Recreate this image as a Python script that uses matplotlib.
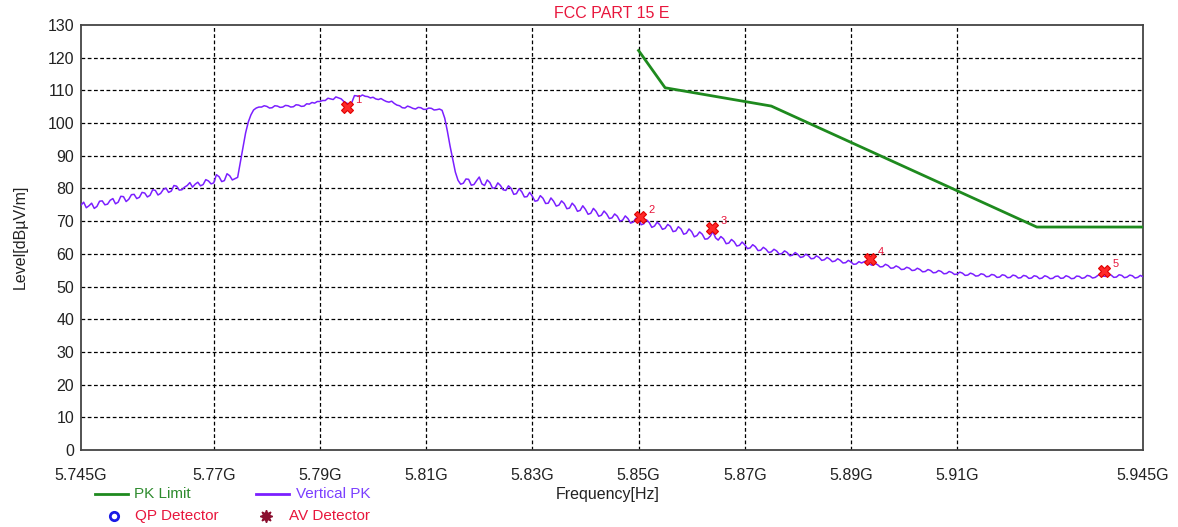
import numpy as np
import matplotlib
matplotlib.use("Agg")
import matplotlib.pyplot as plt
from matplotlib.lines import Line2D

plt.rcParams['font.family'] = ['Liberation Sans', 'DejaVu Sans']

# ---------------- data ----------------
title = "FCC PART 15 E"
x_label = "Frequency[Hz]"
y_label = "Level[dBµV/m]"

sweep_start_ghz = 5.745
sweep_step_ghz = 0.0005
# Vertical PK trace, one value per 0.5 MHz from 5.745 GHz to 5.945 GHz
vertical_pk = [
    74.9, 75.8, 74.1, 74.7, 75.5, 73.9, 74.5, 76.1, 76.2, 75.0,
    75.2, 76.4, 76.9, 75.3, 75.8, 77.6, 77.5, 76.0, 76.7, 78.1,
    78.2, 76.9, 77.3, 78.8, 78.6, 77.4, 77.9, 79.6, 79.4, 78.0,
    78.5, 79.7, 80.1, 78.8, 79.2, 80.9, 80.7, 79.5, 79.6, 80.4,
    80.9, 81.8, 80.4, 81.3, 81.9, 80.8, 81.2, 82.7, 82.3, 81.4,
    81.7, 84.2, 83.6, 82.1, 82.4, 84.5, 83.9, 82.6, 83.0, 83.4,
    88.0, 92.5, 97.0, 100.3, 102.5, 104.0, 104.6, 104.9, 104.9, 105.3,
    105.1, 104.6, 104.7, 105.3, 105.2, 104.8, 104.9, 105.4, 105.3, 104.9,
    105.0, 105.6, 105.5, 105.1, 105.2, 105.9, 105.8, 106.3, 106.1, 106.6,
    106.6, 106.9, 106.9, 107.6, 107.4, 107.2, 108.0, 107.7, 107.4, 106.6,
    106.1, 105.8, 106.3, 108.4, 108.3, 108.1, 108.6, 108.2, 108.1, 107.7,
    107.9, 107.4, 107.2, 107.5, 107.0, 106.6, 106.4, 106.7, 106.0, 105.5,
    105.3, 104.7, 104.6, 105.2, 104.9, 104.5, 104.3, 104.8, 104.7, 104.2,
    104.2, 104.6, 104.5, 104.0, 104.1, 104.3, 103.9, 101.5, 97.5, 93.0,
    89.0, 85.0, 82.5, 81.3, 81.6, 82.9, 82.8, 81.0, 81.2, 82.4,
    83.5, 81.4, 80.9, 82.6, 81.8, 80.1, 80.2, 81.7, 80.9, 79.6,
    79.4, 80.8, 80.0, 78.2, 78.4, 79.9, 79.0, 77.4, 77.5, 78.8,
    77.6, 76.1, 76.3, 77.8, 77.0, 75.4, 75.5, 77.1, 76.1, 74.6,
    74.9, 76.2, 75.4, 73.8, 74.0, 75.5, 74.6, 73.0, 73.3, 74.7,
    73.6, 72.1, 72.4, 73.9, 73.0, 71.5, 71.8, 73.1, 72.2, 70.8,
    71.0, 72.2, 71.5, 70.0, 70.3, 71.6, 70.8, 69.4, 69.7, 70.9,
    70.6, 68.9, 69.2, 70.4, 69.6, 68.1, 68.5, 69.7, 68.9, 67.5,
    67.8, 69.0, 68.4, 66.8, 67.0, 68.3, 67.6, 66.0, 66.3, 67.6,
    66.8, 65.2, 65.6, 66.7, 66.0, 64.5, 64.6, 65.4, 66.8, 64.9,
    64.2, 65.3, 64.6, 63.1, 63.3, 64.4, 63.7, 62.4, 62.6, 63.6,
    62.8, 61.6, 61.8, 62.8, 62.2, 61.0, 61.1, 62.0, 61.4, 60.4,
    60.6, 61.4, 60.9, 59.9, 60.1, 60.9, 60.4, 59.4, 59.6, 60.4,
    59.8, 58.9, 59.1, 59.9, 59.4, 58.5, 58.6, 59.4, 58.9, 58.0,
    58.2, 58.9, 58.4, 57.6, 57.8, 58.5, 58.0, 57.2, 57.3, 58.0,
    57.5, 56.8, 56.9, 57.6, 57.2, 57.6, 57.9, 56.9, 56.5, 57.1,
    56.7, 56.0, 56.1, 56.8, 56.4, 55.6, 55.7, 56.3, 55.9, 55.2,
    55.3, 55.9, 55.6, 54.9, 55.0, 55.6, 55.2, 54.5, 54.6, 55.2,
    54.9, 54.2, 54.3, 54.9, 54.6, 53.9, 54.0, 54.6, 54.3, 53.7,
    53.8, 54.4, 54.1, 53.4, 53.5, 54.1, 53.8, 53.2, 53.3, 53.9,
    53.7, 53.0, 53.1, 53.7, 53.5, 52.8, 52.9, 53.6, 53.4, 52.7,
    52.8, 53.5, 53.3, 52.6, 52.7, 53.4, 53.2, 52.5, 52.6, 53.3,
    53.1, 52.4, 52.6, 53.3, 53.0, 52.4, 52.5, 53.1, 53.2, 52.5,
    52.6, 53.3, 53.0, 52.4, 52.5, 53.2, 53.1, 52.5, 52.7, 53.4,
    53.2, 52.6, 52.8, 53.4, 53.9, 53.2, 53.1, 53.7, 53.5, 52.8,
    52.9, 53.6, 53.4, 52.7, 52.9, 53.5, 53.3, 52.6, 52.8, 53.4,
    53.0,
]

# PK limit line
limit_freq_ghz = [5.850, 5.855, 5.875, 5.925, 5.945]
limit_level = [122.2, 110.8, 105.2, 68.2, 68.2]

# marked peaks
marker_freq_ghz = [5.7951, 5.8502, 5.8638, 5.8935, 5.9377]
marker_level = [104.9, 71.3, 67.9, 58.4, 54.8]
marker_labels = ["1", "2", "3", "4", "5"]

x_ticks_ghz = [5.745, 5.77, 5.79, 5.81, 5.83, 5.85, 5.87, 5.89, 5.91, 5.945]
x_tick_labels = ["5.745G", "5.77G", "5.79G", "5.81G", "5.83G", "5.85G",
                 "5.87G", "5.89G", "5.91G", "5.945G"]
x_grid_ghz = [5.77, 5.79, 5.81, 5.83, 5.85, 5.87, 5.89, 5.91]
y_ticks = [0, 10, 20, 30, 40, 50, 60, 70, 80, 90, 100, 110, 120, 130]

# ---------------- styles ----------------
W, H = 1178, 527
TRACE_C = "#7B1FFF"
LIMIT_C = "#1E8A1E"
RED_TXT = "#E8163C"
fs = 11.5

fig = plt.figure(figsize=(W / 100, H / 100), dpi=100)
ax = fig.add_axes([81 / W, 1 - 450 / H, (1143 - 81) / W, (450 - 25) / H])

freq = sweep_start_ghz + sweep_step_ghz * np.arange(len(vertical_pk))

for gx in x_grid_ghz:
    ax.axvline(gx, color="black", lw=0.9, ls=(0, (3, 2)), zorder=1)
for gy in y_ticks[1:-1]:
    ax.axhline(gy, color="black", lw=0.9, ls=(0, (3, 2)), zorder=1)

ax.plot(freq, vertical_pk, color=TRACE_C, lw=1.1, zorder=3)
ax.plot(limit_freq_ghz, limit_level, color=LIMIT_C, lw=2.0, zorder=3)

ax.plot(marker_freq_ghz, marker_level, ls="none", marker="X", ms=8.5,
        color="#FF2A2A", mec="#E00000", mew=0.8, zorder=4)
for fx_, lv, lb in zip(marker_freq_ghz, marker_level, marker_labels):
    ax.annotate(lb, (fx_, lv), xytext=(6, 3), textcoords="offset points",
                color=RED_TXT, fontsize=8, zorder=5)

ax.set_xlim(5.745, 5.945)
ax.set_ylim(0, 130)
ax.set_xticks(x_ticks_ghz)
ax.set_xticklabels(x_tick_labels)
ax.set_yticks(y_ticks)
ax.tick_params(axis="both", length=0, labelsize=fs, colors="#222222")
ax.tick_params(axis="x", pad=13)
ax.tick_params(axis="y", pad=5)
for sp in ax.spines.values():
    sp.set_color("#444444")
    sp.set_linewidth(1.3)

fig.text(612 / W, 1 - 14 / H, title, color=RED_TXT, fontsize=fs,
         ha="center", va="center")
fig.text(20 / W, 1 - 237 / H, y_label, rotation=90, fontsize=fs,
         ha="center", va="center", color="#222222")
fig.text(608 / W, 1 - 494 / H, x_label, fontsize=fs, ha="center",
         va="center", color="#222222")


def fx(px):
    return px / W


def fy(py):
    return 1 - py / H


# legend row 1
fig.add_artist(Line2D([fx(95), fx(128)], [fy(494), fy(494)], color=LIMIT_C,
                      lw=2, transform=fig.transFigure))
fig.text(fx(134), fy(494), "PK Limit", color="#2E8B2E", fontsize=fs - 0.5,
         ha="left", va="center")
fig.add_artist(Line2D([fx(256), fx(289)], [fy(494), fy(494)], color=TRACE_C,
                      lw=2, transform=fig.transFigure))
fig.text(fx(296), fy(494), "Vertical PK", color="#7B3FFF", fontsize=fs - 0.5,
         ha="left", va="center")
# legend row 2
fig.add_artist(Line2D([fx(114)], [fy(516)], ls="none", marker="o", ms=6,
                      mfc="none", mec="#1A1AE6", mew=2,
                      transform=fig.transFigure))
fig.text(fx(135), fy(516), "QP Detector", color=RED_TXT, fontsize=fs - 0.5,
         ha="left", va="center")
fig.add_artist(Line2D([fx(266)], [fy(516)], ls="none", marker=(8, 1, 0),
                      ms=9, color="#8B1030", transform=fig.transFigure))
fig.text(fx(289), fy(516), "AV Detector", color=RED_TXT, fontsize=fs - 0.5,
         ha="left", va="center")

fig.savefig("out.png", dpi=100)
